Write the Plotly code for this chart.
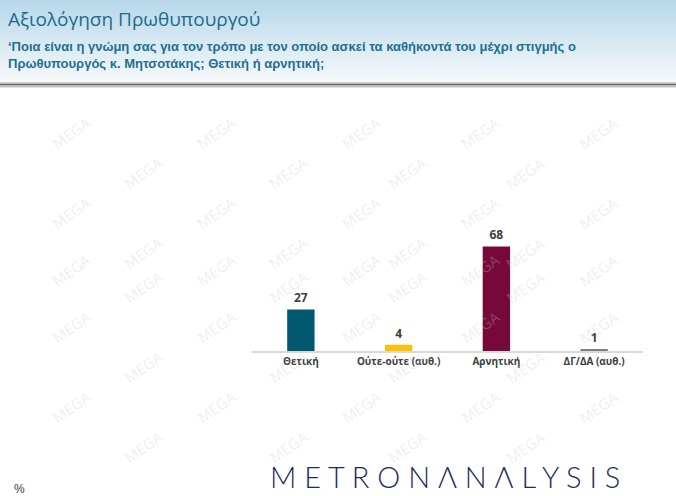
import plotly.graph_objects as go

categories = ["Θετική", "Ούτε-ούτε (αυθ.)", "Αρνητική", "ΔΓ/ΔΑ (αυθ.)"]
values = [27, 4, 68, 1]
colors = ["#02586E", "#FFC000", "#76093A", "#7F7F7F"]

title_text = "Αξιολόγηση Πρωθυπουργού"
subtitle_lines = [
    "‘Ποια είναι η γνώμη σας για τον τρόπο με τον οποίο ασκεί τα καθήκοντά του μέχρι στιγμής ο",
    "Πρωθυπουργός κ. Μητσοτάκης; Θετική ή αρνητική;",
]

W, H = 676, 496
ml, mr, mt, mb = 252, 33, 228, 145
pw, ph = W - ml - mr, H - mt - mb


def px(x):
    return (x - ml) / pw


def py(y):
    return (H - mb - y) / ph


fig = go.Figure()
fig.add_trace(go.Bar(
    x=categories, y=values,
    marker=dict(color=colors, line=dict(width=0)),
    text=[str(v) for v in values],
    textposition="outside",
    textfont=dict(family="Open Sans", size=12, color="#404040", weight="bold"),
    cliponaxis=False,
    width=0.28,
    hoverinfo="skip",
))

shapes = []
top = (184, 216, 234)
bot = (246, 249, 251)
n = 41
hh = 82
for i in range(n):
    t = i / (n - 1)
    c = tuple(int(top[k] + (bot[k] - top[k]) * t) for k in range(3))
    y0 = i * hh / n
    y1 = (i + 1) * hh / n + 0.5
    shapes.append(dict(type="rect", xref="paper", yref="paper", x0=px(0), x1=px(W),
                       y0=py(y1), y1=py(y0), fillcolor="rgb(%d,%d,%d)" % c,
                       line=dict(width=0), layer="below"))
for off, col, w in [(82.5, "#d0d0d0", 1), (84.5, "#6a6a6a", 2.2), (86.8, "#c4c4c4", 1.5)]:
    shapes.append(dict(type="line", xref="paper", yref="paper", x0=px(0), x1=px(W),
                       y0=py(off), y1=py(off),
                       line=dict(color=col, width=w), layer="below"))

annotations = []
wm_positions = []
for row in range(10):
    for col in range(5):
        x = 45 + col * 145 + (row % 2) * 72
        y = 110 + row * 40
        if x < 640:
            wm_positions.append((x, y))
for (x, y) in wm_positions:
    annotations.append(dict(text="MEGA", x=px(x), y=py(y), xref="paper", yref="paper",
                            showarrow=False, textangle=-35,
                            font=dict(family="Open Sans", size=15, color="rgba(200,200,200,0.3)")))

annotations.append(dict(text=title_text, x=px(6), y=py(19), xref="paper", yref="paper",
                        xanchor="left", yanchor="middle", showarrow=False,
                        font=dict(family="Open Sans", size=19, color="#1B6C8C")))
for i, line in enumerate(subtitle_lines):
    annotations.append(dict(text="<b>" + line + "</b>", x=px(6), y=py(47 + 16 * i),
                            xref="paper", yref="paper", xanchor="left", yanchor="middle",
                            showarrow=False,
                            font=dict(family="Liberation Sans", size=13, color="#1F7090")))
annotations.append(dict(text="%", x=px(12), y=py(489), xref="paper", yref="paper",
                        xanchor="left", yanchor="middle", showarrow=False,
                        font=dict(family="Liberation Sans", size=12, color="#404040")))
annotations.append(dict(text="M E T R O N Λ N Λ L Y S I S", x=px(445), y=py(476),
                        xref="paper", yref="paper", xanchor="center", yanchor="middle",
                        showarrow=False,
                        font=dict(family="Lato", size=29, color="#1E2A5C", weight=300)))

fig.update_layout(
    width=W, height=H,
    margin=dict(l=ml, r=mr, t=mt, b=mb, pad=0),
    paper_bgcolor="white", plot_bgcolor="rgba(0,0,0,0)",
    showlegend=False,
    shapes=shapes,
    annotations=annotations,
    xaxis=dict(showline=True, linecolor="#D9D9D9", linewidth=1.5, ticks="",
               tickfont=dict(family="Open Sans", size=10, color="#404040", weight="bold"),
               showgrid=False, zeroline=False, fixedrange=True),
    yaxis=dict(range=[0, 80], visible=False, showgrid=False, zeroline=False, fixedrange=True),
)

fig.write_html("out.html")
